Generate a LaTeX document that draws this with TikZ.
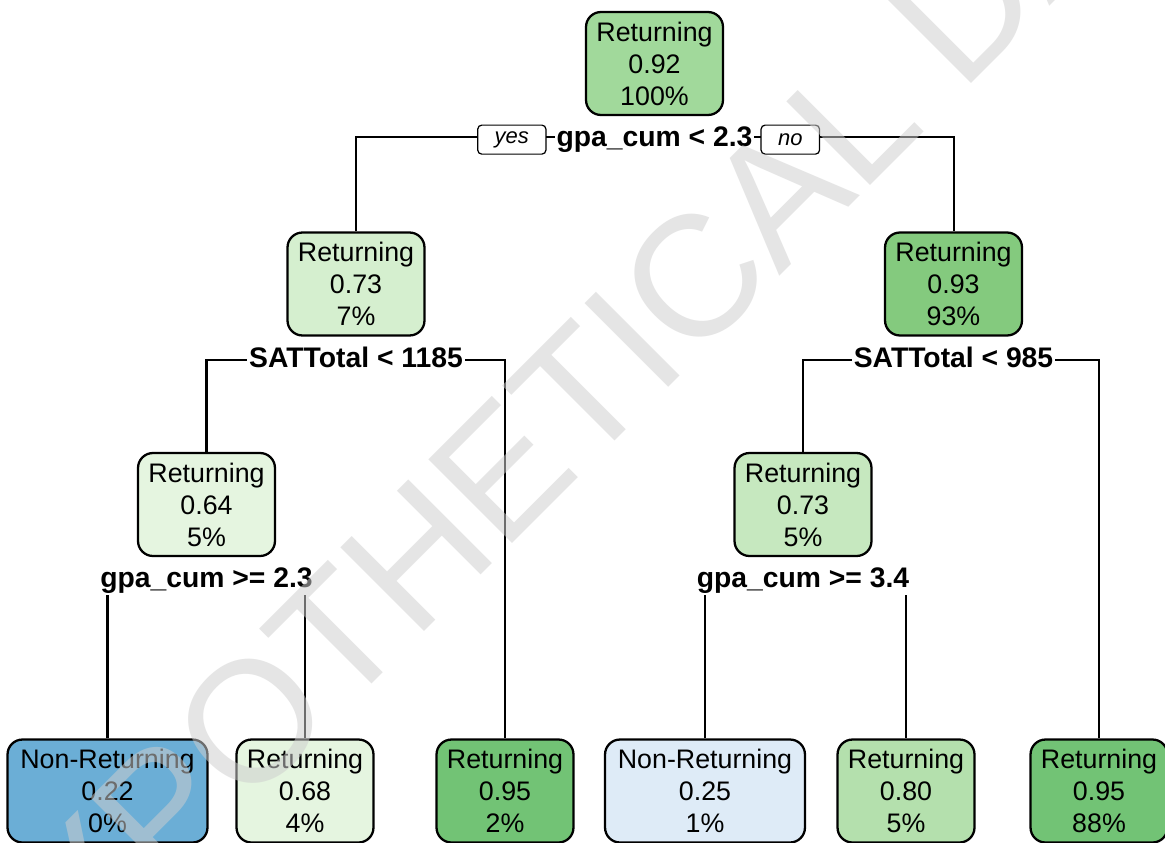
\documentclass[tikz,border=0pt]{standalone}
\usepackage{fontspec}
\setmainfont{Liberation Sans}
\newfontfamily\filigrane{Liberation Sans}
\usetikzlibrary{positioning}

\definecolor{vertA}{HTML}{A1D99B}
\definecolor{vertB}{HTML}{D5EFCF}
\definecolor{vertC}{HTML}{84CA7E}
\definecolor{vertD}{HTML}{E5F5E0}
\definecolor{vertE}{HTML}{C6E8BF}
\definecolor{vertF}{HTML}{72C375}
\definecolor{vertG}{HTML}{B4E0AD}
\definecolor{bleuA}{HTML}{6BAED6}
\definecolor{bleuB}{HTML}{DEEBF7}
\definecolor{grisfil}{RGB}{206,206,206}

\begin{document}
\begin{tikzpicture}[x=0.02cm,y=-0.02cm,
  noeud/.style={draw=black,line width=1.3pt,rounded corners=0.3cm,align=center,
    minimum width=2.74cm,minimum height=2.06cm,inner sep=0.1cm,
    font=\fontsize{15.25}{18.2}\selectfont},
  large/.style={minimum width=4cm},
  test/.style={fill=white,inner sep=1pt,anchor=base,
    font=\fontsize{16.1}{19}\selectfont\bfseries},
  ouinon/.style={draw=black,line width=0.7pt,rounded corners=0.08cm,fill=white,
    inner xsep=0.34cm,inner ysep=0pt,minimum height=0.58cm,
    font=\fontsize{12.5}{15}\selectfont\itshape},
  trait/.style={line width=1.15pt}]

% Cadre
\path[use as bounding box] (0,0) rectangle (1165,842);
\clip (0,0) rectangle (1165,842);
\fill[white] (0,0) rectangle (1165,842);

% Noeuds de l'arbre
\node[noeud,fill=vertA] (racine) at (654.5,63.5) {Returning\\0.92\\100\%};
\node[noeud,fill=vertB] (n2) at (356,284) {Returning\\0.73\\7\%};
\node[noeud,fill=vertC] (n3) at (953.5,284) {Returning\\0.93\\93\%};
\node[noeud,fill=vertD] (n4) at (206.5,504.5) {Returning\\0.64\\5\%};
\node[noeud,fill=vertE] (n6) at (803,504.5) {Returning\\0.73\\5\%};

% Feuilles
\node[noeud,large,fill=bleuA] (n8) at (107.5,791) {Non-Returning\\0.22\\0\%};
\node[noeud,fill=vertD] (n9) at (305,791) {Returning\\0.68\\4\%};
\node[noeud,fill=vertF] (n5) at (505,791) {Returning\\0.95\\2\%};
\node[noeud,large,fill=bleuB] (n12) at (705,791) {Non-Returning\\0.25\\1\%};
\node[noeud,fill=vertG] (n13) at (906,791) {Returning\\0.80\\5\%};
\node[noeud,fill=vertF] (n7) at (1099,791) {Returning\\0.95\\88\%};

% Points de coupure
\coordinate (c1) at (654.5,137);
\coordinate (c2) at (356,360);
\coordinate (c3) at (953.5,360);
\coordinate (c4) at (206.5,580);
\coordinate (c6) at (803,580);

% Branches
\draw[trait] (n2.north) |- (c1) -| (n3.north);
\draw[trait] (n4.north) |- (c2) -| (n5.north);
\draw[trait] (n6.north) |- (c3) -| (n7.north);
\draw[trait] (n8.north) |- (c4) -| (n9.north);
\draw[trait] (n12.north) |- (c6) -| (n13.north);

% Conditions
\node[test] (t1) at (654.5,146.5) {gpa\_cum < 2.3};
\node[test] (t2) at (356,367) {SATTotal < 1185};
\node[test] (t3) at (953.5,367) {SATTotal < 985};
\node[test] (t4) at (206.5,587) {gpa\_cum >= 2.3};
\node[test] (t6) at (803,587) {gpa\_cum >= 3.4};
\node[ouinon,left=0.16cm of t1] (oui) {yes};
\node[ouinon,right=0.12cm of t1] (non) {no};

% Filigrane
\node[rotate=45,inner sep=0pt,text=grisfil,opacity=0.53,
  font=\filigrane\fontsize{97.9}{100}\selectfont] (fil) at (590,382) {HYPOTHETICAL DATA};

\end{tikzpicture}
\end{document}
